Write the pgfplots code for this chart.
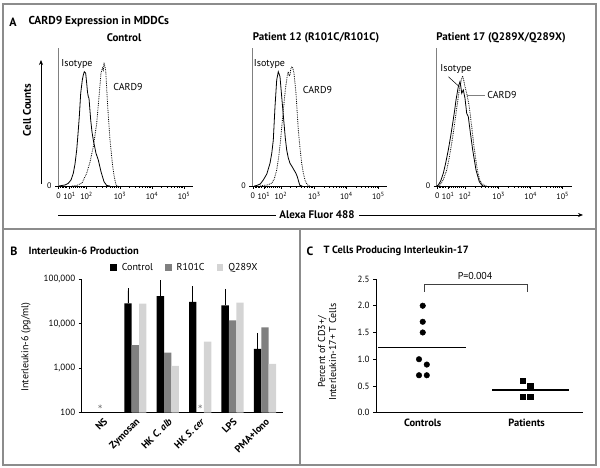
\documentclass[border=0pt]{standalone}
\usepackage{pgfplots}
\pgfplotsset{compat=1.18}
\usepackage{fontspec}
\setmainfont{PT Sans}
\usetikzlibrary{arrows.meta}
\definecolor{framegray}{gray}{0.55}
\definecolor{dgray}{gray}{0.5}
\definecolor{lgray}{gray}{0.83}
\newcommand{\fs}[1]{\fontsize{#1}{#1}\selectfont}
\begin{document}
\begin{tikzpicture}
\useasboundingbox (0pt,0pt) rectangle (600pt,468pt);
\pgfplotsset{
  histo/.style={
    scale only axis, width=135pt, height=138pt,
    xmin=0, xmax=135, ymin=0, ymax=138,
    axis lines*=left,
    x axis line style={black, line width=0.6pt},
    y axis line style={gray, line width=0.6pt},
    xtick={0.5,11.5,28.5,62,94,126},
    xticklabels={0,10\textsuperscript{1},10\textsuperscript{2},10\textsuperscript{3},10\textsuperscript{4},10\textsuperscript{5}},
    minor xtick={2.5,4,5.5,7,8.5,13,15,17,19,21,23,25,26.5,38.2,44.2,48.5,51.8,54.5,56.7,58.7,60.4,71.6,77.3,81.3,84.4,86.9,89.0,90.9,92.5,103.6,109.3,113.3,116.4,118.9,121.0,122.9,124.5},
    ytick={0}, yticklabels={0},
    tick align=outside,
    major tick length=3pt, minor tick length=2pt,
    tick style={black, line width=0.5pt},
    ticklabel style={font=\fs{8}},
    clip=false,
  },
  iso/.style={black, line width=0.8pt},
  card/.style={black, densely dotted, line width=0.8pt},
}
% ---------- Panel A: Control
\begin{axis}[histo, at={(58pt,282pt)}, anchor=south west]
\addplot[iso] coordinates {(1,0)(3.7,0.5)(7,1)(10.3,2.7)(13,6)(15.3,12.7)(17,22)(18.7,36)(20,52)(21.3,69.3)(22.7,92.7)(24.3,106)(25.3,111)(26.3,114.3)(27.7,112.7)(28.7,102.7)(29.5,94)(30.3,89.3)(31,87.7)(32.7,66)(34,54)(35.3,46)(38,32.7)(40.3,26)(43,14.3)(46,4.3)(48.7,0.5)(52,0)};
\addplot[card] coordinates {(14,0)(18.7,0.5)(24,3)(28.7,12.7)(32,24)(35.3,39.3)(38.7,62.7)(41.3,92.7)(43,112.7)(44.5,118)(45.3,116)(46,123.3)(47.7,116)(49.7,79.3)(52,46)(54.7,19.3)(56.5,8)(58,1)(60,0)};
\end{axis}
% ---------- Panel A: Patient 12
\begin{axis}[histo, at={(252.3pt,282pt)}, anchor=south west]
\addplot[iso] coordinates {(2,0)(4.4,0.5)(8,2)(11,6)(14.5,12)(17.7,22.7)(19.5,33)(21,46)(22.7,79.3)(24.4,106)(26,114.3)(27.7,109.3)(29.4,89.3)(31.7,62.7)(33,48)(34.4,36)(36,28)(37.7,22.7)(40,19)(41.7,16)(43.5,13)(45,9.3)(46.5,4)(47.7,0.5)(50,0)};
\addplot[card] coordinates {(8,0)(11,0.5)(15,1)(19.4,2.7)(22,7)(24.4,16)(26.5,30)(28.3,46)(30,65)(31.7,82.7)(33,96)(34.4,106)(35.2,112)(36,114.3)(36.8,110)(37.7,111)(38.5,117)(39.4,119.3)(40.5,118)(41.7,112.7)(43.7,92.7)(46,56)(47.7,38)(49.4,22.7)(51,13)(52.7,6)(54.5,2)(56,0.5)(58,0)};
\end{axis}
% ---------- Panel A: Patient 17
\begin{axis}[histo, at={(436.7pt,282pt)}, anchor=south west]
\addplot[iso] coordinates {(0,0)(1.6,1)(4,5)(6.6,12.7)(9,23)(11.6,36)(14,50)(16,62.7)(18,76)(19.3,86)(21.6,99.3)(23.3,104.3)(24.2,99)(25,92.7)(26.6,96)(28.3,87.7)(30,72.7)(31.6,69.3)(33.3,56)(36,36)(39.3,16)(42.6,4.3)(45,1)(46.6,0)};
\addplot[card] coordinates {(1,0)(3.3,1)(6.5,6)(10,16)(12.5,28)(15,42.7)(17,56)(19.3,72.7)(21,85)(22.6,96)(25,107.7)(26,110)(27,106)(28.3,99.3)(30,92.7)(32.6,79.3)(35,59.3)(37.3,39.3)(39,27)(40.6,16)(43,6)(45,2.7)(48.3,0.3)(50,0)};
\end{axis}
% ---------- Panel B
\begin{axis}[
  at={(81.7pt,55.3pt)}, anchor=south west,
  scale only axis, width=201.3pt, height=133.7pt,
  ymode=log, ymin=100, ymax=100000, log origin=infty,
  yminorticks=false,
  xmin=-0.657, xmax=5.556,
  axis lines*=left,
  axis line style={black, line width=0.6pt},
  ytick={100,1000,10000,100000},
  yticklabels={100,{1,000},{10,000},{100,000}},
  xtick={0,1,2,3,4,5},
  xticklabels={NS,Zymosan,HK \textit{C. alb},HK \textit{S. cer},LPS,PMA+Iono},
  x tick style={draw=none},
  y tick style={black, line width=0.5pt},
  tick align=outside, major tick length=3pt,
  yticklabel style={font=\fs{9}},
  xticklabel style={font=\bfseries\fs{10}, rotate=45, anchor=north east, inner sep=1pt},
  clip=false,
  legend columns=3,
  legend style={at={(0.1406,1.0845)}, anchor=west, draw=none, fill=none, inner sep=0pt, font=\fs{10},
    nodes={inner sep=0pt},
    /tikz/every odd column/.append style={column sep=5pt},
    /tikz/every even column/.append style={column sep=12pt}},
]
\addplot[ybar, bar width=7.4pt, fill=black, draw=none,
  legend image code/.code={\fill[black] (0pt,-3.3pt) rectangle (6.6pt,3.3pt);},
  error bars/.cd, y dir=plus, y explicit,
  error bar style={black, line width=0.6pt},
  error mark options={black, mark size=2.5pt, line width=0.6pt}]
  coordinates {(0.7716,28500) +- (0,26100) (1.7716,41500) +- (0,41100) (2.7716,30500) +- (0,30100) (3.7716,25700) +- (0,27200) (4.7716,2690) +- (0,2760)};
\addlegendentry{Control}
\addplot[ybar, bar width=7.4pt, fill=dgray, draw=none,
  legend image code/.code={\fill[dgray] (0pt,-3.3pt) rectangle (6.6pt,3.3pt);}]
  coordinates {(1,3300) (2,2220) (4,11800) (5,8240)};
\addlegendentry{R101C}
\addplot[ybar, bar width=7.4pt, fill=lgray, draw=none,
  legend image code/.code={\fill[lgray] (0pt,-3.3pt) rectangle (6.6pt,3.3pt);}]
  coordinates {(1.2284,27900) (2.2284,1120) (3.2284,3920) (4.2284,29400) (5.2284,1240)};
\addlegendentry{Q289X}
\addplot[only marks, mark=asterisk, mark size=2pt, gray, forget plot] coordinates {(-0.09,138) (3,138)};
\end{axis}
% ---------- Panel C
\begin{axis}[
  at={(376pt,55.3pt)}, anchor=south west,
  scale only axis, width=206.7pt, height=133.7pt,
  xmin=0.55, xmax=2.54, ymin=0, ymax=2.5,
  axis lines*=left,
  axis line style={black, line width=0.6pt},
  ytick={0,0.5,1,1.5,2,2.5}, yticklabels={0.0,0.5,1.0,1.5,2.0,2.5},
  xtick={1,2}, xticklabels={Controls,Patients},
  x tick style={draw=none},
  y tick style={black, line width=0.5pt},
  tick align=outside, major tick length=3pt,
  yticklabel style={font=\fs{9}},
  xticklabel style={font=\bfseries\fs{10.5}},
  clip=false,
]
\addplot[only marks, mark=*, mark size=2.8pt, black] coordinates {(1,2.0)(1,1.7)(1,1.5)(0.964,1.0)(1.039,0.9)(0.964,0.7)(1.039,0.7)};
\addplot[only marks, mark=square*, mark size=2.7pt, black] coordinates {(1.96,0.6)(2.034,0.5)(1.96,0.3)(2.034,0.3)};
\addplot[black, line width=1.3pt] coordinates {(0.572,1.214)(1.414,1.214)};
\addplot[black, line width=1.3pt] coordinates {(1.67,0.425)(2.41,0.425)};
\addplot[black!75, line width=0.6pt] coordinates {(1.0125,2.26)(1.0125,2.40)(2.008,2.40)(2.008,2.26)};
\node[font=\fs{10}] at (axis cs:1.504,2.56) {P=0.004};
\end{axis}
% ---------- rotated labels (explicit pt coordinates)
\node[font=\bfseries\fs{11}, rotate=90] at (27pt,358pt) {Cell Counts};
\node[font=\fs{10}, rotate=90] at (26pt,121pt) {Interleukin-6 (pg/ml)};
\node[rotate=90, align=center, font=\fontsize{10}{11}\selectfont] at (327pt,116pt) {Percent of CD3+/\\Interleukin-17+ T Cells};
% ---------- frames and free text
\begin{scope}[x=1pt,y=-1pt,yshift=468pt]
\draw[framegray, line width=1.2pt] (3,4) rectangle (596,465);
\draw[framegray, line width=1.2pt] (3,229) -- (596,229);
\draw[framegray, line width=1.2pt] (300,229) -- (300,465);
% panel A
\node[font=\bfseries\fs{12}] at (13,22) {A};
\node[font=\bfseries\fs{11.5},anchor=west] at (25,22) {CARD9 Expression in MDDCs};
\node[font=\bfseries\fs{11}] at (124,38) {Control};
\node[font=\bfseries\fs{11}] at (316,38) {Patient 12 (R101C/R101C)};
\node[font=\bfseries\fs{11}] at (501,38) {Patient 17 (Q289X/Q289X)};
\draw[-{Stealth[length=5pt,width=4pt]}, line width=0.7pt] (41,184) -- (41,60);
\draw[line width=0.7pt] (58,215) -- (276,215);
\node[font=\bfseries\fs{11}] at (317,215) {Alexa Fluor 488};
\draw[-{Stealth[length=5pt,width=4pt]}, line width=0.7pt] (359,215) -- (583,215);
\node[font=\fs{10}] at (77,64) {Isotype};
\node[font=\fs{10}] at (128,87) {CARD9};
\node[font=\fs{10}] at (269.5,64) {Isotype};
\node[font=\fs{10}] at (317.5,90) {CARD9};
\node[font=\fs{10}] at (456,69) {Isotype};
\node[font=\fs{10}] at (502,95) {CARD9};
\draw[line width=0.5pt] (448.3,76.7) -- (459.3,86.7);
\draw[line width=0.5pt, gray] (466.7,95) -- (485,95);
% panel B
\node[font=\bfseries\fs{12}] at (14,251) {B};
\node[font=\bfseries\fs{10.5},anchor=west] at (25,251) {Interleukin-6 Production};
% panel C
\node[font=\bfseries\fs{12}] at (310,251) {C};
\node[font=\bfseries\fs{10.5},anchor=west] at (320,251) {T Cells Producing Interleukin-17};
\end{scope}
\end{tikzpicture}
\end{document}
